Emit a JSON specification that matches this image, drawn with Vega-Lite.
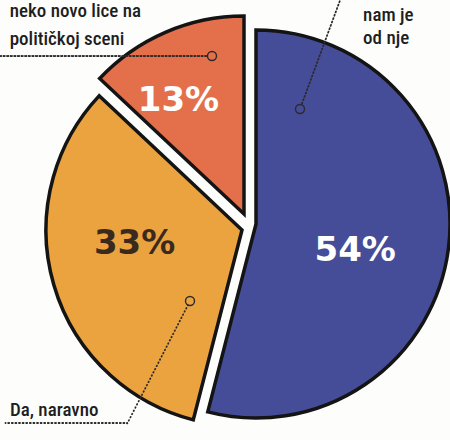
{
  "$schema": "https://vega.github.io/schema/vega-lite/v6.json",
  "autosize": "none",
  "width": 300,
  "height": 420,
  "padding": {"left": 102, "right": 48, "top": 16, "bottom": 4},
  "background": "#fdfdfb",
  "config": {"view": {"stroke": null}},
  "data": {
    "values": [
      {"answer": "nam je od nje", "value": 54, "pct": "54%", "label": ["nam je", "od nje"], "order": 1},
      {"answer": "Da, naravno", "value": 33, "pct": "33%", "label": ["Da, naravno"], "order": 2},
      {"answer": "neko novo lice na političkoj sceni", "value": 13, "pct": "13%", "label": ["neko novo lice na", "političkoj sceni"], "order": 3}
    ]
  },
  "layer": [
    {
      "encoding": {
        "theta": {"field": "value", "type": "quantitative", "stack": true},
        "order": {"field": "order", "type": "quantitative"},
        "color": {
          "field": "answer",
          "type": "nominal",
          "scale": {
            "domain": ["nam je od nje", "Da, naravno", "neko novo lice na političkoj sceni"],
            "range": ["#464d98", "#eaa33f", "#e4704b"]
          },
          "legend": null
        }
      },
      "layer": [
        {
          "mark": {"type": "arc", "radius": 194, "xOffset": 4, "yOffset": -2, "stroke": "#141414", "strokeWidth": 3.5, "strokeJoin": "miter"},
          "encoding": {"opacity": {"condition": {"test": "datum.order === 1", "value": 1}, "value": 0}}
        },
        {
          "mark": {"type": "arc", "radius": 196, "xOffset": -10, "yOffset": 4, "stroke": "#141414", "strokeWidth": 3.5, "strokeJoin": "miter"},
          "encoding": {"opacity": {"condition": {"test": "datum.order === 2", "value": 1}, "value": 0}}
        },
        {
          "mark": {"type": "arc", "radius": 198, "xOffset": -8, "yOffset": -12, "stroke": "#141414", "strokeWidth": 3.5, "strokeJoin": "miter"},
          "encoding": {"opacity": {"condition": {"test": "datum.order === 3", "value": 1}, "value": 0}}
        }
      ]
    },
    {
      "encoding": {
        "theta": {"field": "value", "type": "quantitative", "stack": true},
        "order": {"field": "order", "type": "quantitative"}
      },
      "layer": [
        {
          "mark": {"type": "text", "radius": 105, "dx": -1, "dy": 12, "font": "DejaVu Sans", "fontWeight": "bold", "fontSize": 34, "fill": "#ffffff", "align": "center", "baseline": "middle"},
          "encoding": {"text": {"condition": {"test": "datum.order === 1", "field": "pct"}, "value": ""}}
        },
        {
          "mark": {"type": "text", "radius": 117, "dx": -5, "dy": -15, "font": "DejaVu Sans", "fontWeight": "bold", "fontSize": 34, "fill": "#3a2a1e", "align": "center", "baseline": "middle"},
          "encoding": {"text": {"condition": {"test": "datum.order === 2", "field": "pct"}, "value": ""}}
        },
        {
          "mark": {"type": "text", "radius": 145, "dx": -16, "dy": 8, "font": "DejaVu Sans", "fontWeight": "bold", "fontSize": 34, "fill": "#ffffff", "align": "center", "baseline": "middle"},
          "encoding": {"text": {"condition": {"test": "datum.order === 3", "field": "pct"}, "value": ""}}
        },
        {
          "mark": {"type": "text", "radius": 240, "dx": -127, "dy": -235, "font": "Roboto Condensed, DejaVu Sans Condensed, Roboto, sans-serif", "fontSize": 19, "fontWeight": 500, "lineHeight": 23, "fill": "#1e1e1e", "align": "left", "baseline": "alphabetic"},
          "encoding": {"text": {"condition": {"test": "datum.order === 1", "field": "label"}, "value": ""}}
        },
        {
          "mark": {"type": "text", "radius": 200, "dx": -50, "dy": 134, "font": "Roboto Condensed, DejaVu Sans Condensed, Roboto, sans-serif", "fontSize": 19, "fontWeight": 500, "lineHeight": 28, "fill": "#1e1e1e", "align": "left", "baseline": "alphabetic"},
          "encoding": {"text": {"condition": {"test": "datum.order === 2", "field": "label"}, "value": ""}}
        },
        {
          "mark": {"type": "text", "radius": 230, "dx": -151, "dy": 2, "font": "Roboto Condensed, DejaVu Sans Condensed, Roboto, sans-serif", "fontSize": 19, "fontWeight": 500, "lineHeight": 28, "fill": "#1e1e1e", "align": "left", "baseline": "alphabetic"},
          "encoding": {"text": {"condition": {"test": "datum.order === 3", "field": "label"}, "value": ""}}
        }
      ]
    },
    {
      "transform": [{"filter": "datum.order === 1"}],
      "layer": [
        {"mark": {"type": "arc", "theta": 0.353, "theta2": 0.353, "radius": 122, "radius2": 4.5, "xOffset": 48, "yOffset": -117, "fillOpacity": 0, "stroke": "#2a2a2a", "strokeWidth": 1.8, "strokeDash": [0.1, 3.5], "strokeCap": "round"}},
        {"mark": {"type": "arc", "theta": 0, "theta2": 6.2832, "radius": 4.5, "xOffset": 48, "yOffset": -117, "fillOpacity": 0, "stroke": "#2a2a2a", "strokeWidth": 1.4}}
      ]
    },
    {
      "transform": [{"filter": "datum.order === 2"}],
      "layer": [
        {"mark": {"type": "arc", "theta": 3.615, "theta2": 3.615, "radius": 137.5, "radius2": 4.5, "xOffset": -62, "yOffset": 75, "fillOpacity": 0, "stroke": "#2a2a2a", "strokeWidth": 1.8, "strokeDash": [0.1, 3.5], "strokeCap": "round"}},
        {"mark": {"type": "arc", "theta": 4.7124, "theta2": 4.7124, "radius": 122.5, "radius2": 0.5, "xOffset": -124, "yOffset": 197, "fillOpacity": 0, "stroke": "#2a2a2a", "strokeWidth": 1.8, "strokeDash": [0.1, 3.5], "strokeCap": "round"}},
        {"mark": {"type": "arc", "theta": 0, "theta2": 6.2832, "radius": 4.5, "xOffset": -62, "yOffset": 75, "fillOpacity": 0, "stroke": "#2a2a2a", "strokeWidth": 1.4}}
      ]
    },
    {
      "transform": [{"filter": "datum.order === 3"}],
      "layer": [
        {"mark": {"type": "arc", "theta": 4.7124, "theta2": 4.7124, "radius": 214.5, "radius2": 4.5, "xOffset": -40, "yOffset": -170, "fillOpacity": 0, "stroke": "#2a2a2a", "strokeWidth": 1.8, "strokeDash": [0.1, 3.5], "strokeCap": "round"}},
        {"mark": {"type": "arc", "theta": 0, "theta2": 6.2832, "radius": 4.5, "xOffset": -40, "yOffset": -170, "fillOpacity": 0, "stroke": "#2a2a2a", "strokeWidth": 1.4}}
      ]
    }
  ]
}
